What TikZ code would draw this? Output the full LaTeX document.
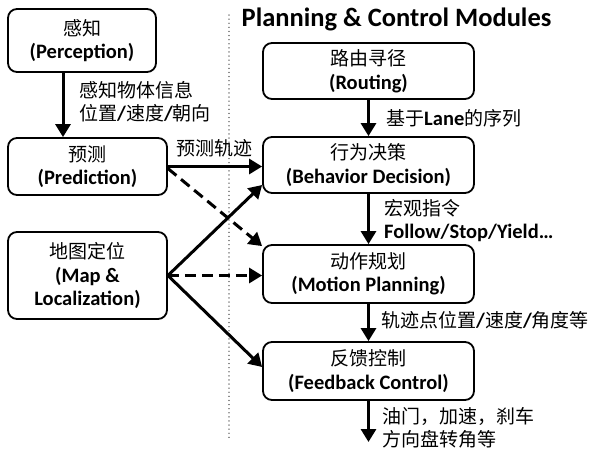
\documentclass[tikz,border=0pt]{standalone}
\usepackage{fontspec}
\setmainfont{Carlito}
\newfontfamily\zh{Noto Sans CJK SC}
\usetikzlibrary{arrows.meta,calc}
\newcommand{\en}[1]{{\fontsize{20.5}{24}\selectfont\bfseries #1}}
\begin{document}
\begin{tikzpicture}[x=1pt,y=-1pt,
  box/.style={draw=black,line width=1.8pt,rounded corners=9pt,align=center,inner sep=0pt,
    font=\fontsize{19}{23.5}\selectfont},
  arr/.style={line width=3pt,-{Triangle[length=13pt,width=15pt]}},
  darr/.style={arr,dash pattern=on 11pt off 6pt},
  lbl/.style={inner sep=0pt,align=left,font=\fontsize{19}{23}\selectfont}]
\useasboundingbox (0,0) rectangle (600,459);
\draw[gray,line width=1.4pt,dash pattern=on 0.1pt off 4pt,line cap=round] (229,15) coordinate (d1) -- (229,438) coordinate (d2);
\node[inner sep=0pt,font=\fontsize{26.5}{30}\selectfont\bfseries] (title) at (396.5,19) {Planning \& Control Modules};
\node[box,minimum width=148pt,minimum height=63pt] (per) at (82,40.5) {{\zh 感知}\\\en{(Perception)}};
\node[box,minimum width=159pt,minimum height=57pt] (pre) at (87.5,166.5) {{\zh 预测}\\\en{(Prediction)}};
\node[box,minimum width=159pt,minimum height=87pt] (map) at (87.5,275.5) {{\zh 地图定位}\\\en{(Map \&}\\\en{Localization)}};
\node[box,minimum width=211pt,minimum height=56pt] (rou) at (368.5,71) {{\zh 路由寻径}\\\en{(Routing)}};
\node[box,minimum width=211pt,minimum height=56pt] (beh) at (368.5,165) {{\zh 行为决策}\\\en{(Behavior Decision)}};
\node[box,minimum width=211pt,minimum height=58pt] (mot) at (368.5,274) {{\zh 动作规划}\\\en{(Motion Planning)}};
\node[box,minimum width=211pt,minimum height=58pt] (fee) at (368.5,371) {{\zh 反馈控制}\\\en{(Feedback Control)}};
\coordinate (out) at (368.5,442);
% vertical arrows
\draw[arr] (per.south -| 63,0) -- (pre.north -| 63,0);
\draw[arr] (rou) -- (beh);
\draw[arr] (beh) -- (mot);
\draw[arr] (mot) -- (fee);
\draw[arr] (fee) -- (out);
% cross arrows
\draw[arr] (pre.east) -- (pre.east -| beh.west);
\draw[darr] ([yshift=-2pt]pre.east) -- ([yshift=-2pt]mot.north west);
\draw[arr] (map.east) -- ([yshift=-20pt]beh.west);
\draw[darr] (map.east) -- (map.east -| mot.west);
\draw[arr] (map.east) -- ([yshift=4pt]fee.west);
% labels
\node[lbl,anchor=west] (l1) at (79,101.5) {{\zh 感知物体信息}\\{\zh 位置}\en{/}{\zh 速度}\en{/}{\zh 朝向}};
\node[lbl] (l2) at (214,148) {{\zh 预测轨迹}};
\node[lbl,anchor=west] (l3) at (386,118) {{\zh 基于}\en{Lane}{\zh 的序列}};
\node[lbl,anchor=west] (l4) at (384,221) {{\zh 宏观指令}\\\en{Follow/Stop/Yield…}};
\node[lbl,anchor=west] (l5) at (381,320) {{\zh 轨迹点位置}\en{/}{\zh 速度}\en{/}{\zh 角度等}};
\node[lbl,anchor=west] (l6) at (382,428) {{\zh 油门，加速，刹车}\\{\zh 方向盘转角等}};
\end{tikzpicture}
\end{document}
